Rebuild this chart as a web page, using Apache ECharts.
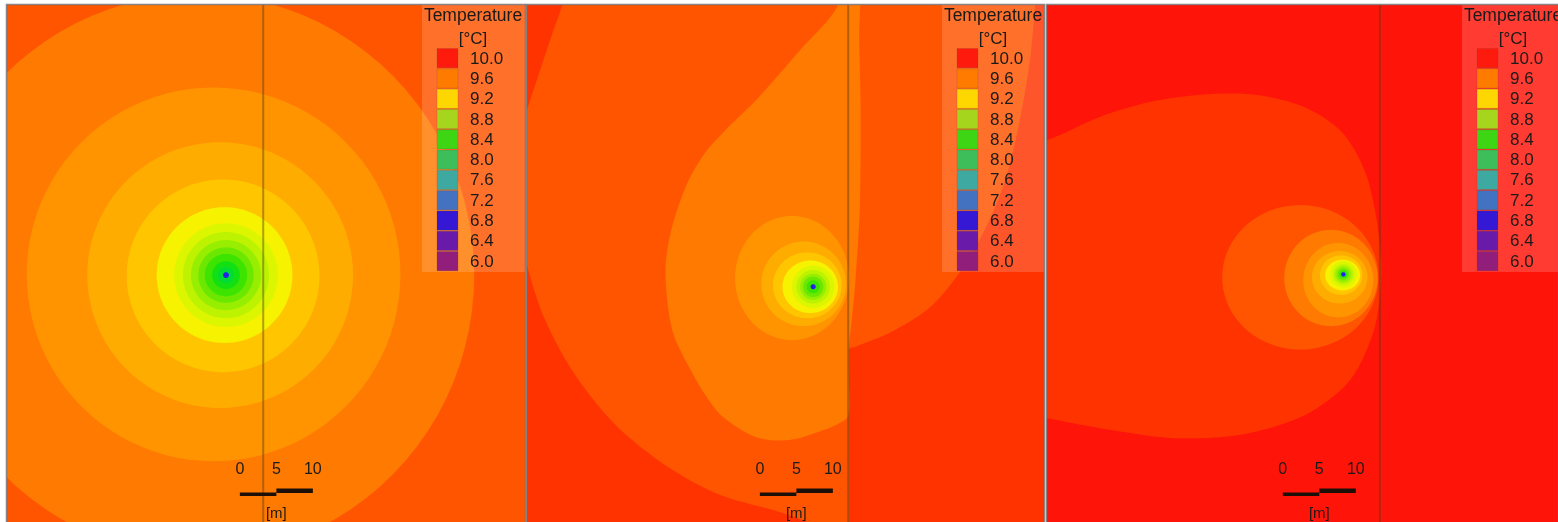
<!DOCTYPE html>
<html>
<head>
<meta charset="utf-8">
<script src="https://cdn.jsdelivr.net/npm/echarts@6.0.0/dist/echarts.min.js"></script>
<style>
html,body{margin:0;padding:0;background:#ffffff;}
#main{width:1558px;height:522px;}
</style>
</head>
<body>
<div id="main"></div>
<script>
// ---------------- DATA (metres / °C) ----------------
const levelValues = [10.0, 9.9, 9.8, 9.7, 9.6, 9.5, 9.4, 9.3, 9.2, 9.1, 9.0, 8.9, 8.8, 8.7, 8.6, 7.0];
const panelBaseLevels = [9.8, 9.9, 10.0];
const boundaryX = [35.1, 44.0, 45.6];

// closed contour areas [level, centreX, centreY, radiusX, radiusY]
const panel1Rings = [
  [9.7, 26.2, 37.0, 37.8, 38.5],
  [9.6, 28.3, 36.9, 25.6, 25.6],
  [9.5, 29.2, 37.0, 18.2, 18.2],
  [9.4, 29.6, 37.1, 13.2, 13.2],
  [9.3, 29.8, 37.0, 9.3, 9.3],
  [9.2, 30.0, 37.0, 7.1, 7.1],
  [9.1, 30.0, 37.0, 5.9, 5.9],
  [9.0, 30.0, 37.0, 4.8, 4.8],
  [8.9, 30.0, 37.0, 3.8, 3.8],
  [8.8, 30.0, 37.0, 2.9, 2.9],
  [8.7, 30.0, 37.0, 1.9, 1.9],
  [8.6, 30.0, 37.0, 1.1, 1.1],
  [7.0, 30.0, 37.0, 0.4, 0.4]
];
const panel2Rings = [
  [9.6, 36.3, 37.4, 7.8, 8.5],
  [9.5, 37.9, 38.2, 5.8, 5.8],
  [9.4, 38.4, 38.4, 4.7, 4.5],
  [9.3, 38.8, 38.6, 3.8, 3.6],
  [9.2, 39.2, 38.6, 2.9, 2.9],
  [9.1, 39.2, 38.6, 2.3, 2.3],
  [9.0, 39.2, 38.6, 1.8, 1.8],
  [8.9, 39.2, 38.6, 1.4, 1.4],
  [8.8, 39.2, 38.6, 0.9, 0.9],
  [7.0, 39.2, 38.6, 0.35, 0.35]
];
const panel3Rings = [
  [9.8, 34.7, 37.3, 10.7, 9.9],
  [9.7, 38.9, 37.4, 6.4, 6.6],
  [9.6, 39.9, 37.7, 4.8, 5.1],
  [9.5, 40.1, 37.3, 3.8, 3.6],
  [9.4, 40.3, 37.0, 2.9, 2.7],
  [9.3, 40.5, 37.0, 2.4, 2.1],
  [9.2, 40.6, 36.9, 1.8, 1.8],
  [9.1, 40.6, 36.9, 1.4, 1.4],
  [9.0, 40.6, 36.9, 1.1, 1.1],
  [8.9, 40.6, 36.9, 0.8, 0.8],
  [8.8, 40.6, 36.9, 0.55, 0.55],
  [7.0, 40.6, 36.9, 0.3, 0.3]
];

// plume-shaped contour areas (outline points in metres)
const panel2PlumeLevels = [9.8, 9.7];
const panel2PlumeOuter = [[5.6,-4.8],[69.9,-4.8],[69.6,0],[68.9,7.5],[67.5,15.8],[65.5,24.0],[62.7,30.8],[59.2,36.7],[55.2,41.4],[49.7,44.9],[45.0,46.8],[44.1,47.2],[44.1,55.0],[44.1,63.0],[44.1,70.0],[44.1,75.0],[40.0,71.6],[34.7,69.5],[26.4,67.1],[18.9,63.0],[12.1,57.5],[6.6,50.7],[2.5,43.2],[0,35.6],[-1.6,26.7],[-1.2,18.5],[0,14.4],[1.8,8.9],[3.4,4.1],[4.8,0]];
const panel2PlumeInner = [[42.3,-4.8],[45.3,-4.8],[45.5,5.0],[45.7,13.7],[45.6,27.4],[45.0,37.7],[44.4,44.0],[44.1,46.6],[44.1,51.5],[44.1,55.9],[43.6,56.8],[40.7,58.2],[36.0,59.6],[31.4,59.2],[26.8,56.4],[24.4,53.4],[22.2,49.6],[20.1,45.2],[19.2,40.4],[19.0,35.6],[19.6,31.5],[20.8,27.4],[22.3,23.7],[24.5,20.1],[27.5,16.8],[31.4,13.0],[37.4,6.2],[42.6,0]];
const panel3PlumeLevels = [9.9];
const panel3PlumeOuter = [[-2.3,18.5],[0,18.5],[7.3,15.3],[14.1,13.3],[21.0,12.3],[28.5,12.3],[35.3,14.0],[40.4,17.4],[43.6,22.9],[45.2,29.7],[45.8,37.0],[44.8,44.5],[41.5,51.4],[35.3,56.2],[26.4,58.9],[16.8,59.3],[8.6,58.2],[0,56.6],[-2.3,56.2]];

// legend & scale bar texts
const legendTitle = 'Temperature';
const legendUnit = '[°C]';
const legendLabels = ['10.0','9.6','9.2','8.8','8.4','8.0','7.6','7.2','6.8','6.4','6.0'];
const scaleTicks = [0, 5, 10];
const scaleUnit = '[m]';

// ---------------- STYLES & LAYOUT ----------------
const levelColors = ['#ff1409','#ff3300','#ff5500','#ff7a00','#ff9400','#ffac00','#ffc600','#f6f200','#dcf600','#bdf300','#98ee00','#6ce800','#3ce400','#12e012','#00dc34','#2222ea'];
const legendColors = ['#ff1a0e','#ff7b00','#ffd700','#a5d51c','#3dd514','#3ebe5a','#3ea9a0','#4272c0','#3418d4','#6a1aa8','#921e7c'];
const PX_PER_M = 7.3;
const PANEL_TOP = 5, PANEL_H = 517;
const panelLefts = [7, 527, 1047];
const panelWidths = [518, 517, 511];
const scaleStart = [31.9, 31.9, 32.3];
const FONT = '"Liberation Sans", Arial, Helvetica, sans-serif';

function colorOf(v) {
  const i = levelValues.findIndex(l => Math.abs(l - v) < 1e-6);
  return levelColors[i];
}

function buildShapes(plumeLevels, plumeOutlines, rings) {
  const shapes = [];
  plumeLevels.forEach((lv, k) => shapes.push({level: lv, points: plumeOutlines[k]}));
  rings.forEach(r => shapes.push({level: r[0], cx: r[1], cy: r[2], rx: r[3], ry: r[4]}));
  return shapes;
}
const panelShapes = [
  buildShapes([], [], panel1Rings),
  buildShapes(panel2PlumeLevels, [panel2PlumeOuter, panel2PlumeInner], panel2Rings),
  buildShapes(panel3PlumeLevels, [panel3PlumeOuter], panel3Rings)
];

const grids = [], xAxes = [], yAxes = [], series = [], graphics = [];

panelLefts.forEach((left, i) => {
  const w = panelWidths[i];
  const xMax = w / PX_PER_M, yMax = PANEL_H / PX_PER_M;
  grids.push({left: left, top: PANEL_TOP, width: w, height: PANEL_H, show: true,
              backgroundColor: colorOf(panelBaseLevels[i]), borderWidth: 0});
  xAxes.push({gridIndex: i, type: 'value', min: 0, max: xMax, show: false});
  yAxes.push({gridIndex: i, type: 'value', min: 0, max: yMax, inverse: true, show: false});

  const shapes = panelShapes[i];
  series.push({
    type: 'custom', xAxisIndex: i, yAxisIndex: i, clip: true, silent: true, z: 2,
    data: shapes.map((s, k) => [k, s.level]),
    renderItem: function (params, api) {
      const s = shapes[params.dataIndex];
      const fill = colorOf(s.level);
      if (s.points) {
        return {type: 'polygon', shape: {points: s.points.map(p => api.coord(p)), smooth: 0.3},
                style: {fill: fill}};
      }
      const c = api.coord([s.cx, s.cy]);
      const sz = api.size([s.rx, s.ry]);
      const ax = Math.abs(sz[0]), ay = Math.abs(sz[1]);
      const pts = [];
      const n = 96;
      for (let k = 0; k < n; k++) {
        const t = k / n * Math.PI * 2;
        pts.push([c[0] + ax * Math.cos(t), c[1] + ay * Math.sin(t)]);
      }
      return {type: 'polygon', shape: {points: pts}, style: {fill: fill}};
    }
  });

  // vertical boundary line
  series.push({
    type: 'custom', xAxisIndex: i, yAxisIndex: i, clip: true, silent: true, z: 3,
    data: [[boundaryX[i], 0]],
    renderItem: function (params, api) {
      const a = api.coord([api.value(0), 0]);
      const b = api.coord([api.value(0), yMax]);
      return {type: 'line', shape: {x1: a[0], y1: a[1], x2: b[0], y2: b[1]},
              style: {stroke: 'rgba(85,60,25,0.45)', lineWidth: 2}};
    }
  });

  // scale bar
  series.push({
    type: 'custom', xAxisIndex: i, yAxisIndex: i, clip: false, silent: true, z: 5,
    data: scaleTicks.map(t => [t, 0]),
    renderItem: function (params, api) {
      const k = params.dataIndex;
      const x0 = api.coord([scaleStart[i] + scaleTicks[k], 0])[0];
      const children = [{
        type: 'text', x: x0, y: 470,
        style: {text: String(scaleTicks[k]), font: '16px ' + FONT, fill: '#1a1a1a',
                align: 'center', verticalAlign: 'middle', textAlign: 'center', textVerticalAlign: 'middle'}
      }];
      if (k < scaleTicks.length - 1) {
        const x1 = api.coord([scaleStart[i] + scaleTicks[k + 1], 0])[0];
        const low = (k % 2 === 0);
        children.push({type: 'rect', shape: {x: x0, y: low ? 492.5 : 488.5, width: x1 - x0, height: low ? 3.5 : 4.5},
                       style: {fill: '#1c0f08'}});
      }
      if (k === Math.floor(scaleTicks.length / 2)) {
        children.push({type: 'text', x: x0, y: 514,
          style: {text: scaleUnit, font: '15px ' + FONT, fill: '#1a1a1a',
                  align: 'center', verticalAlign: 'middle', textAlign: 'center', textVerticalAlign: 'middle'}});
      }
      return {type: 'group', children: children};
    }
  });

  // legend (overlay box)
  const bx = left + 415;
  const bw = Math.min(103, left + w - bx);
  graphics.push({type: 'rect', silent: true, z: 100, shape: {x: bx, y: PANEL_TOP, width: bw, height: 267},
                 style: {fill: 'rgba(255,255,255,0.17)'}});
  graphics.push({type: 'text', silent: true, z: 101, x: bx + 51, y: 16,
                 style: {text: legendTitle, font: '17.5px ' + FONT, fill: '#1a1a1a',
                         align: 'center', verticalAlign: 'middle', textAlign: 'center', textVerticalAlign: 'middle'}});
  graphics.push({type: 'text', silent: true, z: 101, x: bx + 51, y: 39,
                 style: {text: legendUnit, font: '17px ' + FONT, fill: '#1a1a1a',
                         align: 'center', verticalAlign: 'middle', textAlign: 'center', textVerticalAlign: 'middle'}});
  legendLabels.forEach((lab, k) => {
    const top = 48.5 + k * 20.3;
    graphics.push({type: 'rect', silent: true, z: 101, shape: {x: bx + 15, y: top, width: 21, height: 19.3},
                   style: {fill: legendColors[k], stroke: 'rgba(120,60,40,0.35)', lineWidth: 0.6}});
    graphics.push({type: 'text', silent: true, z: 101, x: bx + 48, y: top + 10.5,
                   style: {text: lab, font: '17px ' + FONT, fill: '#1a1a1a',
                           align: 'left', verticalAlign: 'middle', textAlign: 'left', textVerticalAlign: 'middle'}});
  });
  // panel frame
  graphics.push({type: 'rect', silent: true, z: 110, shape: {x: left - 0.5, y: PANEL_TOP - 0.5, width: w + 1, height: PANEL_H + 10},
                 style: {fill: 'none', stroke: 'rgba(120,110,110,0.85)', lineWidth: 1.5}});
});

const chart = echarts.init(document.getElementById('main'), null, {renderer: 'canvas'});
chart.setOption({
  animation: false,
  backgroundColor: '#ffffff',
  grid: grids,
  xAxis: xAxes,
  yAxis: yAxes,
  series: series,
  graphic: {elements: graphics}
});
</script>
</body>
</html>
